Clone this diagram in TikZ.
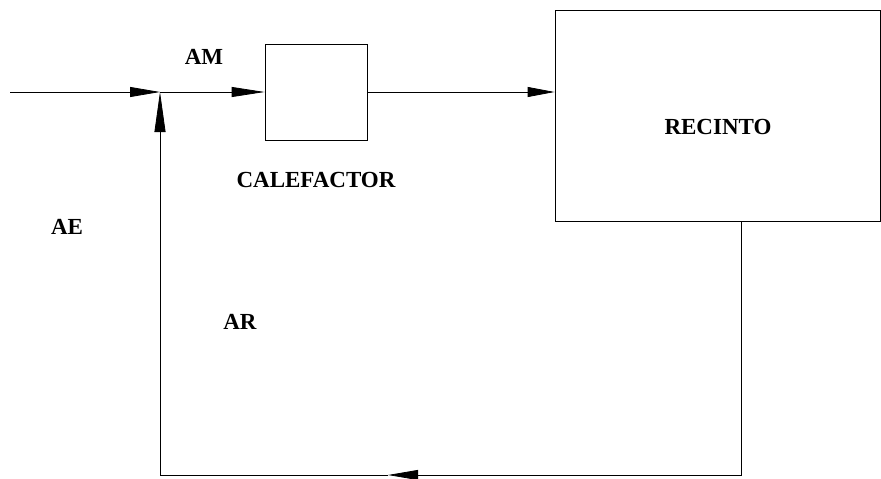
\documentclass[tikz,border=0pt]{standalone}
\usepackage{fontspec}
\setmainfont{Liberation Serif}
\usetikzlibrary{arrows.meta}
\begin{document}
\begin{tikzpicture}[x=1pt,y=-1pt,
  line/.style={line width=0.8pt, black},
  arr/.style={line, -{Triangle[length=30pt,width=10pt]}},
  blockbox/.style={draw, line width=0.8pt, rectangle, inner sep=0pt},
  lbl/.style={font=\fontsize{23}{26}\selectfont\bfseries, inner sep=0pt}]
\useasboundingbox (0,0) rectangle (881,479);
\node[blockbox, minimum width=102pt, minimum height=96pt] (cal) at (316,92) {};
\node[blockbox, minimum width=325pt, minimum height=211pt] (rec) at (717.5,115.5) {};
\coordinate (in) at (10,92);
\coordinate (j) at (160,92);
\coordinate (fbtop) at (741,221);
\coordinate (fb1) at (741,475);
\coordinate (mid) at (388,475);
\coordinate (fb2) at (160,475);
\draw[arr] (in) -- (j);
\draw[arr, -{Triangle[length=33pt,width=10pt]}] (j) -- (cal.west);
\draw[arr, -{Triangle[length=27pt,width=10pt]}] (cal.east) -- (cal.east -| rec.west);
\draw[arr] (rec.south -| fbtop) -- (fb1) -- (mid);
\draw[line, -{Triangle[length=40pt,width=11pt]}] (mid) -- (fb2) -- (j);
\node[lbl] (am) at (204,57) {AM};
\node[lbl] (calt) at (316,180) {CALEFACTOR};
\node[lbl] (ae) at (67,227) {AE};
\node[lbl] (ar) at (240,322) {AR};
\node[lbl] (rect) at (718,127) {RECINTO};
\end{tikzpicture}
\end{document}
